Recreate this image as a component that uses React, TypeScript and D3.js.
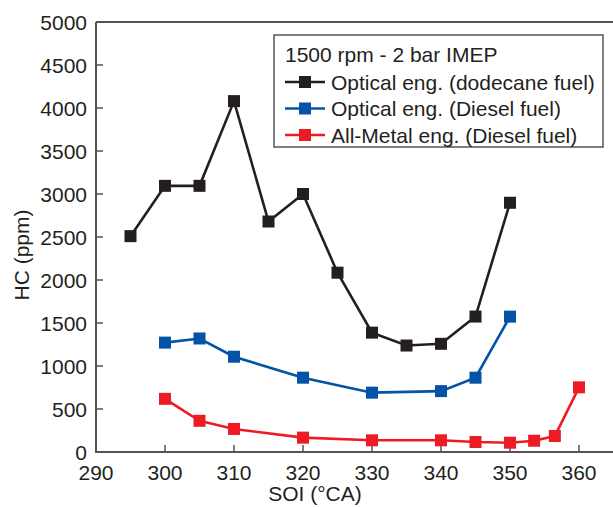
import React from "react";
import * as d3 from "d3";

const blackX = [295, 300, 305, 310, 315, 320, 325, 330, 335, 340, 345, 350];
const blackY = [2510, 3095, 3095, 4080, 2680, 3000, 2085, 1388, 1238, 1258, 1575, 2898];
const blueX = [300, 305, 310, 320, 330, 340, 345, 350];
const blueY = [1272, 1320, 1108, 864, 690, 708, 864, 1574];
const redX = [300, 305, 310, 320, 330, 340, 345, 350, 353.5, 356.5, 360];
const redY = [618, 363, 268, 167, 136, 136, 116, 108, 131, 186, 752];
const xTicks = [290, 300, 310, 320, 330, 340, 350, 360];
const yTicks = [0, 500, 1000, 1500, 2000, 2500, 3000, 3500, 4000, 4500, 5000];
const legendTitle = "1500 rpm - 2 bar IMEP";
const seriesNames = [
  "Optical eng. (dodecane fuel)",
  "Optical eng. (Diesel fuel)",
  "All-Metal eng. (Diesel fuel)",
];
const seriesColors = ["#231f20", "#0453a6", "#ed1c24"];

export default function App() {
  const W = 613, H = 507;
  const x = d3.scaleLinear().domain([290, 360]).range([96, 579]);
  const y = d3.scaleLinear().domain([0, 5000]).range([452, 22]);
  const line = d3
    .line<[number, number]>()
    .x((d) => x(d[0]))
    .y((d) => y(d[1]));
  const series = [
    { xs: blackX, ys: blackY },
    { xs: blueX, ys: blueY },
    { xs: redX, ys: redY },
  ];
  const font = "'Liberation Sans', Arial, Helvetica, sans-serif";
  const axisColor = "#555";
  const fs = 21;
  const ms = 12;
  return (
    <svg
      width={W}
      height={H}
      style={{ position: "absolute", left: 0, top: 0, background: "#fff" }}
      fontFamily={font}
    >
      <path
        d={`M${x(290)},${y(5000)}H${W + 5}M${x(290)},${y(5000)}V${y(0)}H${W + 5}`}
        fill="none"
        stroke={axisColor}
        strokeWidth={2}
      />
      {yTicks.map((t) => (
        <g key={"y" + t}>
          <line x1={x(290)} x2={x(290) + 7} y1={y(t)} y2={y(t)} stroke={axisColor} strokeWidth={1.5} />
          <text x={87} y={y(t)} dy="0.36em" textAnchor="end" fontSize={fs} fill="#231f20">
            {t}
          </text>
        </g>
      ))}
      {xTicks.map((t) => (
        <g key={"x" + t}>
          <line x1={x(t)} x2={x(t)} y1={y(0)} y2={y(0) - 7} stroke={axisColor} strokeWidth={1.5} />
          <text x={x(t)} y={480} textAnchor="middle" fontSize={fs} fill="#231f20">
            {t}
          </text>
        </g>
      ))}
      <text x={315} y={501} textAnchor="middle" fontSize={fs} fill="#231f20">
        SOI (°CA)
      </text>
      <text
        transform={`translate(29,255) rotate(-90)`}
        textAnchor="middle"
        fontSize={fs}
        fill="#231f20"
      >
        HC (ppm)
      </text>
      {series.map((s, i) => {
        const pts = s.xs.map((v, j) => [v, s.ys[j]] as [number, number]);
        return (
          <g key={"s" + i}>
            <path d={line(pts) || ""} fill="none" stroke={seriesColors[i]} strokeWidth={2.6} />
            {pts.map((p, j) => (
              <rect
                key={j}
                x={x(p[0]) - ms / 2}
                y={y(p[1]) - ms / 2}
                width={ms}
                height={ms}
                fill={seriesColors[i]}
              />
            ))}
          </g>
        );
      })}
      <rect x={274} y={35} width={329} height={112} fill="#fff" stroke={axisColor} strokeWidth={1.5} />
      <text x={285} y={62} fontSize={fs} fill="#231f20">
        {legendTitle}
      </text>
      {seriesNames.map((n, i) => {
        const cy = 82 + i * 26.5;
        return (
          <g key={"l" + i}>
            <line x1={285} x2={325} y1={cy} y2={cy} stroke={seriesColors[i]} strokeWidth={2.6} />
            <rect x={305 - ms / 2} y={cy - ms / 2} width={ms} height={ms} fill={seriesColors[i]} />
            <text x={331} y={cy} dy="0.36em" fontSize={fs} fill="#231f20">
              {n}
            </text>
          </g>
        );
      })}
    </svg>
  );
}
